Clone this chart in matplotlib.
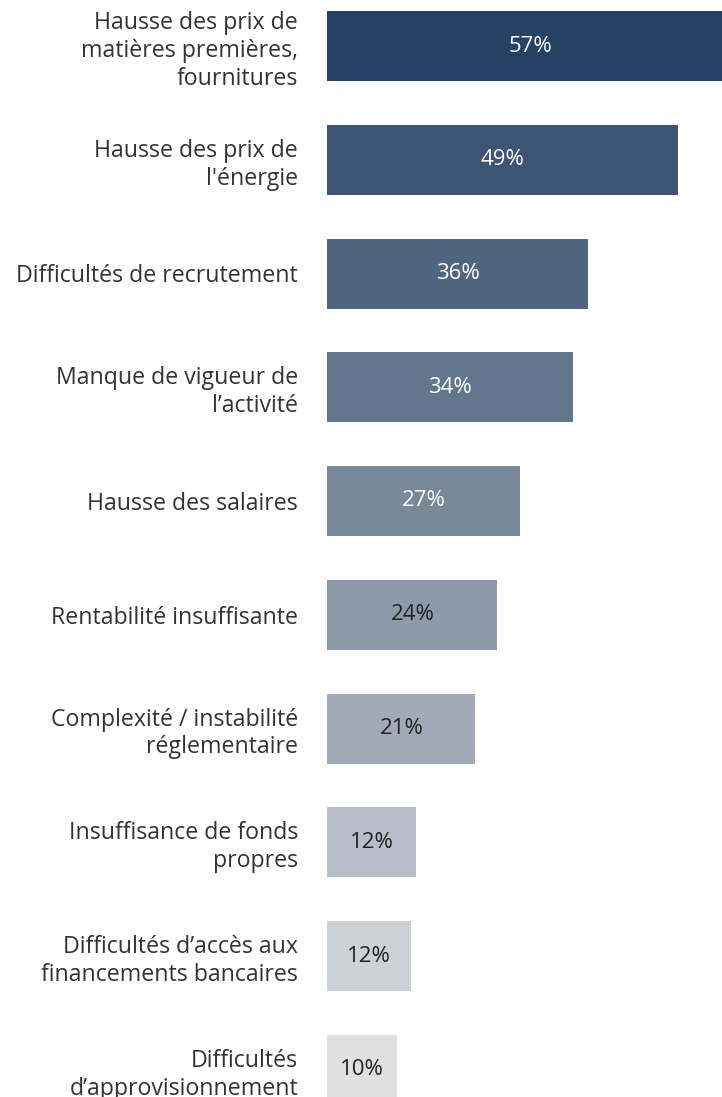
import matplotlib.pyplot as plt

categories = [
    "Hausse des prix de\nmatières premières,\nfournitures",
    "Hausse des prix de\nl'énergie",
    "Difficultés de recrutement",
    "Manque de vigueur de\nl’activité",
    "Hausse des salaires",
    "Rentabilité insuffisante",
    "Complexité / instabilité\nréglementaire",
    "Insuffisance de fonds\npropres",
    "Difficultés d’accès aux\nfinancements bancaires",
    "Difficultés\nd’approvisionnement",
]
values = [57, 49.2, 36.6, 34.5, 27.0, 23.9, 20.8, 12.4, 11.8, 9.8]
value_labels = ["57%", "49%", "36%", "34%", "27%", "24%", "21%", "12%", "12%", "10%"]
colors = ["#254163", "#3d5572", "#50657f", "#63778c", "#788898",
          "#8c9aaa", "#a2aab7", "#b8bec7", "#cdd0d5", "#e0e0e0"]
text_colors = ["white"] * 5 + ["#222222"] * 5

plt.rcParams['font.family'] = ['Open Sans', 'DejaVu Sans']

W, H = 722, 1097
fig = plt.figure(figsize=(W / 100, H / 100), dpi=100)
left = 327.3
ax = fig.add_axes([left / W, 0, 1 - left / W, 1])

px_per_pct = 7.12
step = 113.75
y = list(range(len(categories)))
bars = ax.barh(y, values, height=70 / step, color=colors)

ax.set_xlim(0, (W - left) / px_per_pct)
ax.set_ylim((H - 46) / step, -46 / step)

for bar, lab, tc in zip(bars, value_labels, text_colors):
    ax.text(bar.get_x() + bar.get_width() / 2, bar.get_y() + bar.get_height() / 2,
            lab, ha='center', va='center', color=tc, fontsize=16)

ax.set_yticks(y)
ax.set_yticklabels(categories, fontsize=16.7, color="#333333", linespacing=1.22)
ax.tick_params(axis='y', length=0, pad=21)
ax.set_xticks([])
for s in ax.spines.values():
    s.set_visible(False)

fig.savefig("out.png", dpi=100)
